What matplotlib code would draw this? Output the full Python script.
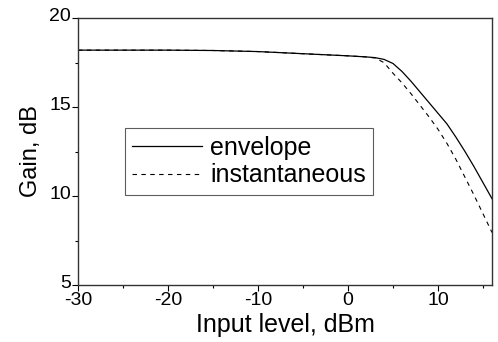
import matplotlib
matplotlib.use('Agg')
import matplotlib.pyplot as plt
import matplotlib.transforms as mtransforms
from matplotlib.ticker import MultipleLocator

plt.rcParams['font.family'] = ['Liberation Sans', 'DejaVu Sans']
plt.rcParams['axes.unicode_minus'] = False

# datos
x_env = [-30, -20, -15, -10, -5, 0, 2, 3, 4, 5, 6, 7, 8, 9, 10, 11, 12, 13, 14, 15, 16]
g_env = [18.2, 18.2, 18.18, 18.12, 18.0, 17.88, 17.82, 17.78, 17.68, 17.45, 17.0,
         16.45, 15.85, 15.25, 14.65, 14.05, 13.3, 12.5, 11.65, 10.75, 9.85]
x_inst = [-30, -20, -15, -10, -5, 0, 2, 3, 4, 5, 6, 7, 8, 9, 10, 11, 12, 13, 14, 15, 16]
g_inst = [18.2, 18.2, 18.18, 18.12, 18.0, 17.88, 17.82, 17.76, 17.5, 16.9, 16.36,
          15.75, 15.1, 14.45, 13.75, 12.95, 12.05, 11.05, 10.05, 9.0, 7.95]

fig = plt.figure(figsize=(4.98, 3.42), dpi=100)
ax = fig.add_axes([0.1566, 0.1667, 0.8314, 0.7803])

ax.plot(x_env, g_env, color='black', lw=0.9, label='envelope')
ax.plot(x_inst, g_inst, color='black', lw=0.8, linestyle=(0, (4, 4)), label='instantaneous')

ax.set_xlim(-30, 16)
ax.set_ylim(5, 20)
ax.xaxis.set_major_locator(MultipleLocator(10))
ax.xaxis.set_minor_locator(MultipleLocator(5))
ax.yaxis.set_major_locator(MultipleLocator(5))
ax.yaxis.set_minor_locator(MultipleLocator(2.5))
ax.tick_params(which='major', direction='out', length=4, width=0.8, labelsize=14, pad=1)
ax.tick_params(which='minor', direction='out', length=2.5, width=0.8)
for s in ax.spines.values():
    s.set_color('#333333')
    s.set_linewidth(1)

# subo un poco las etiquetas del eje y como en el original
offset = mtransforms.ScaledTranslation(0, 2.5 / 72, fig.dpi_scale_trans)
for lbl in ax.get_yticklabels():
    lbl.set_transform(lbl.get_transform() + offset)

ax.set_xlabel('Input level, dBm', fontsize=18, labelpad=3)
ax.set_ylabel('Gain, dB', fontsize=17, labelpad=5)

leg = ax.legend(loc='upper left', bbox_to_anchor=(0.1135, 0.588), borderaxespad=0,
                fontsize=18, frameon=True, fancybox=False, edgecolor='#333333',
                handlelength=2.8, handletextpad=0.3, labelspacing=0.15, borderpad=0.3)
leg.get_frame().set_linewidth(0.8)

plt.savefig('out.png', dpi=100)
